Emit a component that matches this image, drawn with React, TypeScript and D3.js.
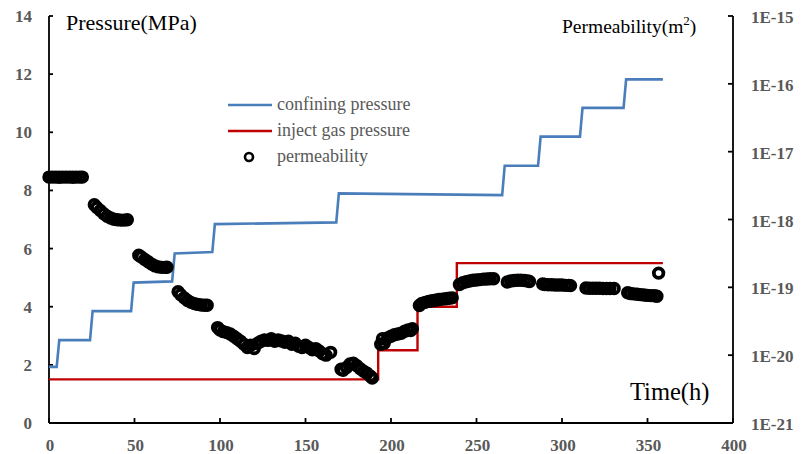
import React from 'react';
import * as d3 from 'd3';

// confining pressure (MPa), stepped
const confiningTime = [0, 4.5, 6, 24, 25.5, 48, 49.5, 72, 73.5, 95.5, 97, 168, 169.5, 265, 266.5, 286, 287.5, 310.5, 312, 336, 337.5, 359];
const confiningPressure = [1.93, 1.93, 2.85, 2.85, 3.85, 3.85, 4.83, 4.87, 5.83, 5.88, 6.84, 6.9, 7.9, 7.84, 8.85, 8.85, 9.85, 9.85, 10.84, 10.84, 11.82, 11.82];

// inject gas pressure (MPa)
const injectTime = [0, 192.5, 192.5, 215.5, 215.5, 238.5, 238.5, 359];
const injectPressure = [1.5, 1.5, 2.5, 2.5, 4.0, 4.0, 5.5, 5.5];

// permeability (m2) vs time (h)
const permeability: [number, number][] = [
  [0, 4.22e-18], [2, 4.22e-18], [4, 4.22e-18], [6, 4.2e-18], [8, 4.22e-18], [10, 4.22e-18],
  [12, 4.22e-18], [14, 4.2e-18], [16, 4.22e-18], [18, 4.22e-18], [19.5, 4.22e-18],
  [26.5, 1.65e-18], [28, 1.5e-18], [30, 1.36e-18], [32, 1.22e-18], [34, 1.12e-18], [36, 1.05e-18],
  [38, 1.01e-18], [40, 0.99e-18], [42, 0.98e-18], [44, 0.98e-18], [45.8, 0.99e-18],
  [52.5, 2.98e-19], [54, 2.8e-19], [56, 2.58e-19], [58, 2.38e-19], [60, 2.2e-19], [62, 2.07e-19],
  [64, 2.0e-19], [66, 1.97e-19], [68, 1.97e-19], [69, 1.98e-19],
  [75.5, 8.6e-20], [77, 7.8e-20], [79, 7.0e-20], [81, 6.4e-20], [83, 6.0e-20], [85, 5.75e-20],
  [87, 5.6e-20], [89, 5.5e-20], [91, 5.45e-20], [92.5, 5.45e-20],
  [98.6, 2.55e-20], [100, 2.35e-20], [102, 2.22e-20], [104, 2.15e-20], [106, 2.05e-20], [108, 1.9e-20],
  [110, 1.75e-20], [112, 1.6e-20], [114, 1.45e-20], [116, 1.3e-20], [118, 1.4e-20], [120, 1.25e-20],
  [122, 1.5e-20], [124, 1.6e-20], [126, 1.68e-20], [128, 1.65e-20], [130, 1.75e-20], [132, 1.6e-20],
  [134, 1.68e-20], [136, 1.62e-20], [138, 1.55e-20], [140, 1.6e-20], [142, 1.45e-20], [144, 1.5e-20],
  [146, 1.35e-20], [148, 1.3e-20], [150, 1.4e-20], [152, 1.3e-20], [154, 1.2e-20], [156, 1.25e-20],
  [158, 1.15e-20], [160, 1.05e-20], [162, 1.0e-20], [164.7, 1.1e-20],
  [170.8, 6.2e-21], [172, 6.0e-21], [174, 6.6e-21], [176, 7.4e-21], [178, 7.6e-21], [180, 7.0e-21],
  [182, 6.3e-21], [184, 5.8e-21], [186, 5.4e-21], [188, 4.9e-21], [189, 4.6e-21],
  [194, 1.45e-20], [195, 1.75e-20], [196, 1.5e-20], [198, 1.8e-20], [200, 1.9e-20], [202, 2.0e-20],
  [204, 2.05e-20], [206, 2.1e-20], [208, 2.25e-20], [210, 2.35e-20], [211.5, 2.3e-20], [212.5, 2.45e-20],
  [216.6, 5.4e-20], [218, 5.8e-20], [220, 6.0e-20], [222, 6.2e-20], [224, 6.35e-20], [226, 6.45e-20],
  [228, 6.6e-20], [230, 6.7e-20], [232, 6.8e-20], [234, 6.9e-20], [235.8, 7.0e-20],
  [240, 1.1e-19], [242, 1.17e-19], [244, 1.21e-19], [246, 1.24e-19], [248, 1.27e-19], [250, 1.28e-19],
  [252, 1.3e-19], [254, 1.32e-19], [256, 1.33e-19], [258, 1.34e-19], [260, 1.34e-19],
  [268, 1.2e-19], [270, 1.24e-19], [272, 1.26e-19], [274, 1.27e-19], [276, 1.27e-19], [278, 1.26e-19],
  [280, 1.24e-19], [281, 1.22e-19],
  [288.7, 1.12e-19], [290, 1.1e-19], [292, 1.09e-19], [294, 1.09e-19], [296, 1.08e-19], [298, 1.08e-19],
  [300, 1.08e-19], [302, 1.07e-19], [304, 1.07e-19], [305, 1.06e-19],
  [314, 9.8e-20], [316, 9.7e-20], [318, 9.7e-20], [320, 9.7e-20], [322, 9.7e-20], [324, 9.6e-20],
  [326, 9.6e-20], [328, 9.6e-20], [330.5, 9.6e-20],
  [338.4, 8.3e-20], [340, 8.1e-20], [342, 8.0e-20], [344, 7.9e-20], [346, 7.8e-20], [348, 7.7e-20],
  [350, 7.6e-20], [352, 7.55e-20], [354, 7.5e-20], [355.5, 7.4e-20],
  [356.5, 1.62e-19],
];

const xTicks = [0, 50, 100, 150, 200, 250, 300, 350, 400];
const yTicks = [0, 2, 4, 6, 8, 10, 12, 14];
const permTicks = [1e-21, 1e-20, 1e-19, 1e-18, 1e-17, 1e-16, 1e-15];
const permTickLabels = ['1E-21', '1E-20', '1E-19', '1E-18', '1E-17', '1E-16', '1E-15'];

const FONT = "'Liberation Serif', 'Times New Roman', 'DejaVu Serif', serif";
const BLUE = '#4a7ebb';
const RED = '#c00000';
const GREY = '#595959';

export default function App() {
  const x = d3.scaleLinear().domain([0, 400]).range([49, 733]);
  const y = d3.scaleLinear().domain([0, 14]).range([423, 16]);
  const yPerm = d3.scaleLog().domain([1e-21, 1e-15]).range([423, 16]);

  const line = d3.line<[number, number]>().x(d => x(d[0])).y(d => y(d[1]));
  const confining = confiningTime.map((t, i) => [t, confiningPressure[i]] as [number, number]);
  const inject = injectTime.map((t, i) => [t, injectPressure[i]] as [number, number]);

  const [x0, x1] = x.range();
  const [yb, yt] = y.range();
  const tickStyle = { fontFamily: FONT, fontSize: 17, fontWeight: 700 } as React.CSSProperties;
  const txt = (size: number) => ({ fontFamily: FONT, fontSize: size } as React.CSSProperties);

  return (
    <svg width={803} height={454} style={{ position: 'absolute', left: 0, top: 0, background: '#fff', fontFamily: FONT }}>
      {/* axes */}
      <line x1={x0} x2={x0} y1={yt} y2={yb} stroke="#000" strokeWidth={1.8} />
      <line x1={x1} x2={x1} y1={yt} y2={yb} stroke="#000" strokeWidth={1.8} />
      <line x1={x0} x2={x1} y1={yb} y2={yb} stroke="#000" strokeWidth={1.8} />

      {yTicks.map(v => (
        <g key={'y' + v}>
          <line x1={x0} x2={x0 + 4} y1={y(v)} y2={y(v)} stroke="#000" strokeWidth={1.8} />
          <text x={32} y={y(v) + 6} textAnchor="end" style={tickStyle} fill={GREY}>{v}</text>
        </g>
      ))}
      {xTicks.map(v => (
        <g key={'x' + v}>
          <line x1={x(v)} x2={x(v)} y1={yb} y2={yb - 5} stroke="#000" strokeWidth={1.8} />
          <text x={x(v) + 1} y={451} textAnchor="middle" style={tickStyle} fill={GREY}>{v}</text>
        </g>
      ))}
      {permTicks.map((v, i) => (
        <g key={'p' + i}>
          <line x1={x1} x2={x1 - 5} y1={yPerm(v)} y2={yPerm(v)} stroke="#000" strokeWidth={1.8} />
          <text x={751} y={yPerm(v) + 7} textAnchor="start" style={tickStyle} fill={GREY}>{permTickLabels[i]}</text>
        </g>
      ))}

      {/* axis titles */}
      <text x={66} y={30} style={txt(22)} fill="#000">Pressure(MPa)</text>
      <text x={562} y={33} style={txt(19.5)} fill="#000">
        Permeability(m<tspan style={{ fontSize: 13 }} dy={-8}>2</tspan><tspan dy={8}>)</tspan>
      </text>
      <text x={630} y={400} style={txt(24.5)} fill="#000">Time(h)</text>

      {/* series */}
      <path d={line(confining) ?? ''} fill="none" stroke={BLUE} strokeWidth={2.6} />
      <path d={line(inject) ?? ''} fill="none" stroke={RED} strokeWidth={2.4} />
      {permeability.map((d, i) => (
        <circle key={i} cx={x(d[0])} cy={yPerm(d[1])} r={4.8} fill="none" stroke="#000" strokeWidth={3.8} />
      ))}

      {/* legend */}
      <line x1={228} x2={272} y1={105} y2={105} stroke={BLUE} strokeWidth={2.6} />
      <text x={277} y={110} style={txt(18)} fill={GREY}>confining pressure</text>
      <line x1={228} x2={272} y1={131} y2={131} stroke={RED} strokeWidth={2.4} />
      <text x={277} y={136} style={txt(18)} fill={GREY}>inject gas pressure</text>
      <circle cx={249} cy={157} r={4} fill="none" stroke="#000" strokeWidth={2.6} />
      <text x={277} y={162} style={txt(18)} fill={GREY}>permeability</text>
    </svg>
  );
}
